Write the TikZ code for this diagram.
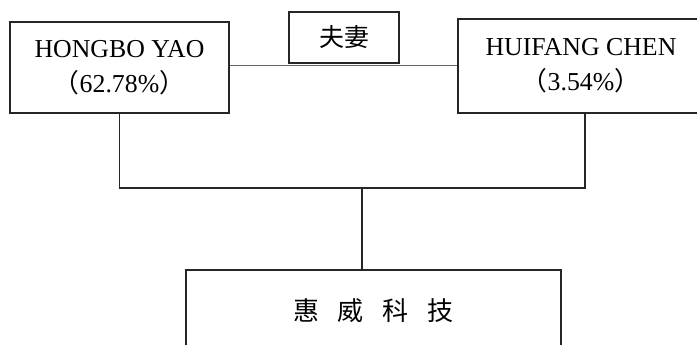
\documentclass[tikz,border=0pt]{standalone}
\usepackage{fontspec}
\setmainfont{Liberation Serif}
\newfontfamily\cjk{Noto Sans CJK SC}
\begin{document}
\begin{tikzpicture}[x=1pt,y=-1pt,
  box/.style={draw=black!85,line width=1.4pt,inner sep=0pt,align=center,
    font=\fontsize{25.8}{35}\selectfont},
  conn/.style={draw=black!85,line width=1.2pt},
  thinconn/.style={draw=black!60,line width=1pt}]
\useasboundingbox (0,0) rectangle (697,345);
\clip (0,0) rectangle (697,345);
\fill[white] (0,0) rectangle (697,345);
\node[box,minimum width=219pt,minimum height=91pt] (hy) at (119.5,67.5)
  {HONGBO YAO\\{\cjk （}62.78\%{\cjk ）}};
\node[box,minimum width=246pt,minimum height=94pt] (hc) at (581,66)
  {HUIFANG CHEN\\{\cjk （}3.54\%{\cjk ）}};
\node[box,minimum width=110pt,minimum height=51pt,font=\cjk\fontsize{25}{30}\selectfont] (fq) at (344,37.5) {夫妻};
\node[box,minimum width=375pt,minimum height=82pt,font=\cjk\fontsize{26}{30}\selectfont] (hw) at (373.5,311)
  {惠\hspace{19pt}威\hspace{19pt}科\hspace{19pt}技};
\coordinate (j) at (362,188);
\draw[thinconn] (hy.east |- 0,66) -- (hc.west |- 0,66);
\draw[conn] (hy.south) -- (hy.south |- j) -- ([xshift=4pt]hc.south |- j) -- ([xshift=4pt]hc.south);
\draw[conn] (j) -- (hw.north -| j);
\end{tikzpicture}
\end{document}
